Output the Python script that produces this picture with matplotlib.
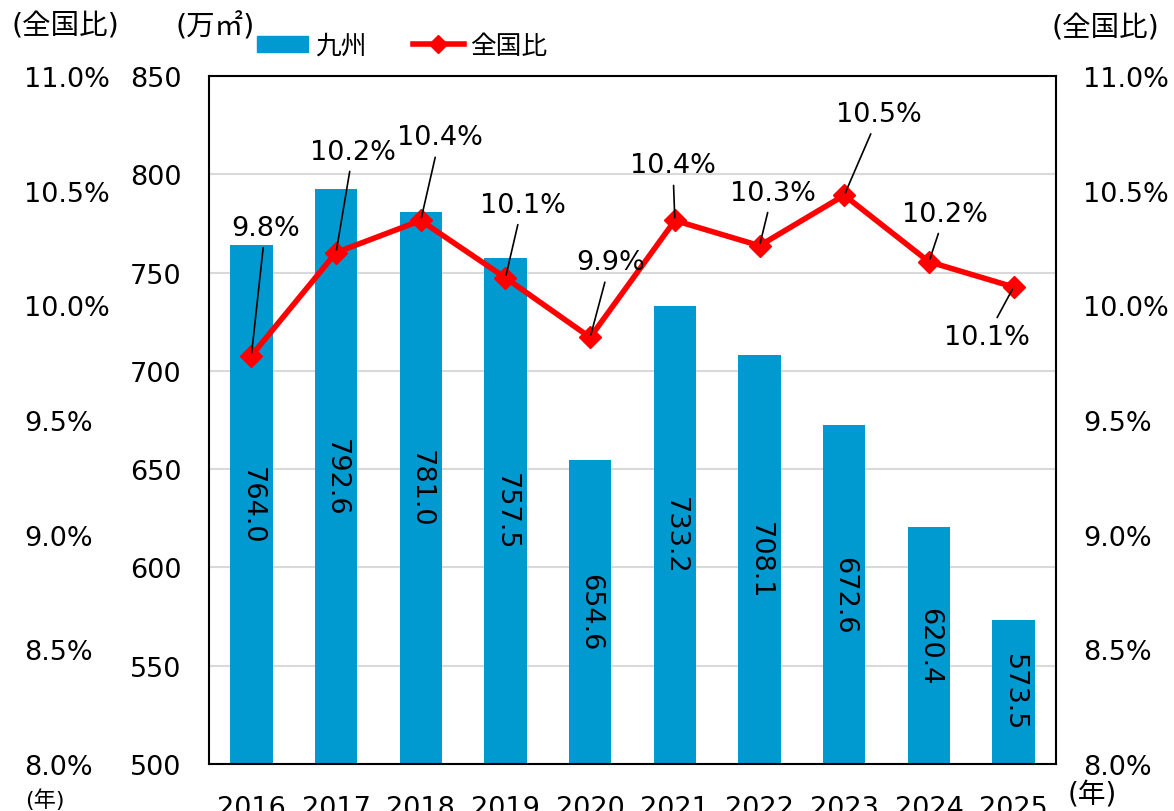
import matplotlib.pyplot as plt
from matplotlib.lines import Line2D
from matplotlib.patches import Patch

plt.rcParams['font.family'] = ['DejaVu Sans', 'Noto Sans CJK JP']

years = ["2016", "2017", "2018", "2019", "2020", "2021", "2022", "2023", "2024", "2025"]
kyushu = [764.0, 792.6, 781.0, 757.5, 654.6, 733.2, 708.1, 672.6, 620.4, 573.5]
share = [9.78, 10.23, 10.37, 10.12, 9.86, 10.37, 10.26, 10.48, 10.19, 10.08]

# label offsets (pixels) from each marker
label_offsets = [(14, 128), (17, 101), (19, 83), (17, 73), (20, 75),
                 (-2, 55), (13, 53), (35, 81), (16, 48), (-27, -50)]

BAR_COLOR = "#0099d0"
FS = 19.5

W, H = 1174, 812
fig = plt.figure(figsize=(W / 100, H / 100), dpi=100)
ax = fig.add_axes([209 / W, 1 - 765 / H, (1056 - 209) / W, (765 - 77) / H])

x = list(range(len(years)))
ax.bar(x, kyushu, width=0.5, color=BAR_COLOR, zorder=2)
ax.set_xlim(-0.5, len(years) - 0.5)
ax.set_ylim(500, 850)
ax.set_yticks(range(500, 851, 50))
ax.set_xticks(x)
ax.set_xticklabels(years)
ax.tick_params(axis="y", length=0, pad=20, labelsize=FS)
ax.tick_params(axis="x", length=0, pad=22, labelsize=FS)
ax.yaxis.grid(True, color="#d9d9d9", lw=1.5, zorder=0)
ax.set_axisbelow(True)
for sp in ax.spines.values():
    sp.set_linewidth(1.5)
    sp.set_color("black")

# values written inside the bars
for xi, v in zip(x, kyushu):
    ax.text(xi, (500 + v) / 2, f"{v:.1f}", rotation=270, ha="center", va="center",
            fontsize=FS, zorder=3)

# right percentage axis with the line
ax2 = ax.twinx()
ax2.set_ylim(8.0, 11.0)
pct_ticks = [8.0, 8.5, 9.0, 9.5, 10.0, 10.5, 11.0]
ax2.set_yticks(pct_ticks)
ax2.set_yticklabels([f"{t:.1f}%" for t in pct_ticks])
ax2.tick_params(axis="y", length=0, pad=19.5, labelsize=FS)
for sp in ax2.spines.values():
    sp.set_visible(False)
ax2.plot(x, share, color="red", lw=4, marker="D", ms=11, zorder=5)

for xi, v, (dx, dy) in zip(x, share, label_offsets):
    ax2.annotate(f"{v:.1f}%", xy=(xi, v), xytext=(dx, dy), textcoords="offset pixels",
                 ha="center", va="center", fontsize=FS,
                 arrowprops=dict(arrowstyle="-", color="black", lw=1.2,
                                 shrinkA=3, shrinkB=2), zorder=6)

# left percentage axis (same scale as the right one)
ax3 = ax.twinx()
ax3.set_ylim(8.0, 11.0)
ax3.yaxis.tick_left()
ax3.set_yticks(pct_ticks)
ax3.set_yticklabels([f"{t:.1f}%" for t in pct_ticks])
ax3.tick_params(axis="y", length=0, pad=133, labelsize=FS)
for lab in ax3.get_yticklabels():
    lab.set_horizontalalignment("left")
for sp in ax3.spines.values():
    sp.set_visible(False)
ax3.set_zorder(-1)

# unit captions
fig.text(12 / W, 1 - 26 / H, "(全国比)", fontsize=20.5, va="center", ha="left")
fig.text(1052 / W, 1 - 28 / H, "(全国比)", fontsize=20.5, va="center", ha="left")
fig.text(175 / W, 1 - 27 / H, "(万㎡)", fontsize=20.5, va="center", ha="left")
fig.text(25 / W, 1 - 800 / H, "(年)", fontsize=16, va="center", ha="left")
fig.text(1068 / W, 1 - 795 / H, "(年)", fontsize=20, va="center", ha="left")

handles = [Patch(color=BAR_COLOR, label="九州"),
           Line2D([], [], color="red", lw=4, marker="D", ms=9, label="全国比")]
fig.legend(handles=handles, loc="center left", bbox_to_anchor=(257 / W, 1 - 47 / H),
           ncol=2, frameon=False, fontsize=18.5, handlelength=2.0, handleheight=0.6,
           handletextpad=0.25, columnspacing=1.8, borderpad=0, borderaxespad=0)

fig.savefig("out.png", dpi=100)
